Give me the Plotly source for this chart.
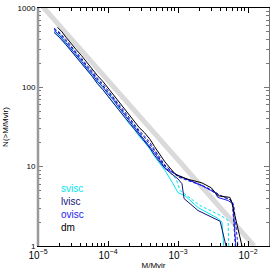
import plotly.graph_objects as go

# Reference power-law line
ref_M = [1.0e-5, 1.22e-2]
ref_N = [1216, 1]

# dm (black solid)
dm_M = [1.9e-5, 2.2e-5, 2.5e-5, 3.0e-5, 3.5e-5, 4.2e-5, 5.0e-5, 6.0e-5, 7.0e-5, 8.5e-5,
        1.0e-4, 1.2e-4, 1.4e-4, 1.7e-4, 2.0e-4, 2.4e-4, 2.8e-4, 3.3e-4, 4.0e-4, 4.6e-4,
        5.5e-4, 6.5e-4, 7.7e-4, 9.0e-4, 1.0e-3, 1.34e-3, 2.2e-3, 3.0e-3, 3.7e-3, 5.5e-3,
        5.9e-3, 8.2e-3]
dm_N = [570, 500, 430, 360, 300, 250, 205, 172, 142, 118,
        98, 81, 67, 54, 45, 37, 31, 27, 22, 18,
        14, 11.5, 9.6, 8.2, 7.7, 7.0, 6.25, 5.4, 4.3, 4.1,
        3.5, 1]

body_M = [1.7e-5, 2.0e-5, 2.5e-5, 3.0e-5, 3.5e-5, 4.2e-5, 5.0e-5, 6.0e-5, 7.0e-5, 8.5e-5,
          1.0e-4, 1.2e-4, 1.4e-4, 1.7e-4, 2.0e-4, 2.4e-4, 2.8e-4, 3.3e-4, 4.0e-4, 4.6e-4,
          5.5e-4, 6.5e-4]

# svisc (cyan solid)
sv_M = body_M + [8.5e-4, 1.0e-3, 1.26e-3, 1.93e-3, 3.7e-3, 4.25e-3, 4.5e-3]
sv_N = [500, 440, 350, 290, 243, 202, 166, 138, 114, 94,
        78, 64, 53, 43, 35, 29, 24, 20.5, 16.5, 13.5,
        11, 9.0, 6.1, 4.7, 4.3, 3.06, 2.23, 2.0, 1]

# svisc (cyan dashed)
svd_M = body_M + [9.4e-4, 1.07e-3, 2.06e-3, 4.25e-3, 5.2e-3, 5.3e-3]
svd_N = [540, 480, 380, 315, 265, 220, 180, 150, 124, 103,
         86, 71, 58, 47, 39, 32, 26.5, 22.5, 18, 15,
         12, 9.8, 7.0, 5.0, 3.24, 2.37, 2.1, 1]

# lvisc (navy solid)
lv_M = body_M + [1.0e-3, 1.14e-3, 1.22e-3, 1.93e-3, 4.0e-3, 4.85e-3]
lv_N = [490, 430, 345, 285, 240, 198, 163, 136, 112, 93,
        77, 64, 53, 43, 36, 29.5, 25, 21, 17, 14,
        11.5, 9.5, 7.0, 6.1, 3.96, 2.8, 2.05, 1]

# lvisc (navy dashed)
lvd_M = body_M + [1.0e-3, 2.2e-3, 3.5e-3, 5.6e-3, 6.0e-3, 6.6e-3]
lvd_N = [545, 485, 388, 320, 268, 224, 184, 154, 127, 106,
         88, 72, 60, 48, 40, 33, 27.5, 23.5, 19, 16,
         12.5, 10.2, 7.6, 5.8, 4.6, 3.8, 3.3, 1]

# ovisc (blue solid)
ov_M = body_M + [9.1e-4, 2.2e-3, 3.4e-3, 3.7e-3, 5.2e-3, 6.1e-3, 6.7e-3]
ov_N = [520, 460, 365, 305, 255, 212, 174, 146, 120, 100,
        83, 69, 57, 46, 38, 31, 26, 22, 18, 15,
        12, 9.6, 8.1, 5.75, 4.7, 4.1, 3.74, 3.4, 1]

# ovisc (blue dashed)
ovd_M = body_M + [1.0e-3, 2.43e-3, 3.16e-3, 4.25e-3, 5.9e-3, 6.3e-3, 7.2e-3]
ovd_N = [555, 500, 400, 335, 280, 232, 190, 160, 132, 110,
         91, 75, 62, 50, 42, 34, 28.5, 24.5, 20, 16.5,
         13, 10.5, 7.4, 5.6, 5.0, 4.2, 3.74, 3.15, 1]

CYAN = "#00e5f0"
NAVY = "#14147a"
BLUE = "#1c1cf0"
BLACK = "#000000"

fig = go.Figure()
fig.add_trace(go.Scatter(x=ref_M, y=ref_N, mode="lines",
                         line=dict(color="#dadada", width=5)))
series = [
    (sv_M, sv_N, CYAN, "solid"),
    (svd_M, svd_N, CYAN, "dash"),
    (lv_M, lv_N, NAVY, "solid"),
    (lvd_M, lvd_N, NAVY, "dash"),
    (ov_M, ov_N, BLUE, "solid"),
    (ovd_M, ovd_N, BLUE, "dash"),
    (dm_M, dm_N, BLACK, "solid"),
]
for mx, ny, col, dash in series:
    fig.add_trace(go.Scatter(x=mx, y=ny, mode="lines",
                             line=dict(color=col, width=1,
                                       dash="3px,2px" if dash == "dash" else "solid")))

font = dict(family="Liberation Sans, Arial, sans-serif", size=8, color="black")

fig.update_layout(
    width=274, height=274,
    margin=dict(l=38, r=5, t=4, b=28),
    paper_bgcolor="white", plot_bgcolor="white",
    showlegend=False,
    font=font,
    xaxis=dict(type="log", range=[-5, -1.7], dtick=1, exponentformat="power",
               showgrid=False, zeroline=False,
               showline=True, linecolor="black", linewidth=1, mirror="ticks",
               ticks="inside", ticklen=5, tickcolor="black", tickwidth=1,
               minor=dict(ticks="inside", ticklen=3, tickcolor="black", dtick="D1", showgrid=False),
               tickfont=font, ticklabeloverflow="allow",
               title=dict(text="M/Mvir", font=font, standoff=2)),
    yaxis=dict(type="log", range=[0, 3.0], dtick=1, exponentformat="none",
               showgrid=False, zeroline=False,
               showline=True, linecolor="#777777", linewidth=1, mirror="ticks",
               ticks="inside", ticklen=5, tickcolor="#777777", tickwidth=1,
               minor=dict(ticks="inside", ticklen=3, tickcolor="#777777", dtick="D1", showgrid=False),
               tickfont=font, ticklabeloverflow="allow",
               title=dict(text="N(>M/Mvir)", font=font, standoff=7)),
)

# thicker grey left axis
fig.add_shape(type="line", xref="paper", yref="paper", x0=0, x1=0, y0=0, y1=1,
              line=dict(color="#9a9a9a", width=2.5), layer="above")

labels = [("svisc", CYAN, 188), ("lvisc", NAVY, 201), ("ovisc", BLUE, 214), ("dm", BLACK, 227)]
for txt, col, py in labels:
    fig.add_annotation(text=txt, xref="paper", yref="paper",
                       x=(59 - 38) / 231, y=(246 - py) / 242,
                       xanchor="left", yanchor="middle", showarrow=False,
                       font=dict(family="Liberation Sans, Arial, sans-serif", size=10, color=col))

fig.write_html("out.html",
               config={"displayModeBar": False, "staticPlot": True},
               post_script="document.body.style.margin='0';document.body.style.padding='0';")
